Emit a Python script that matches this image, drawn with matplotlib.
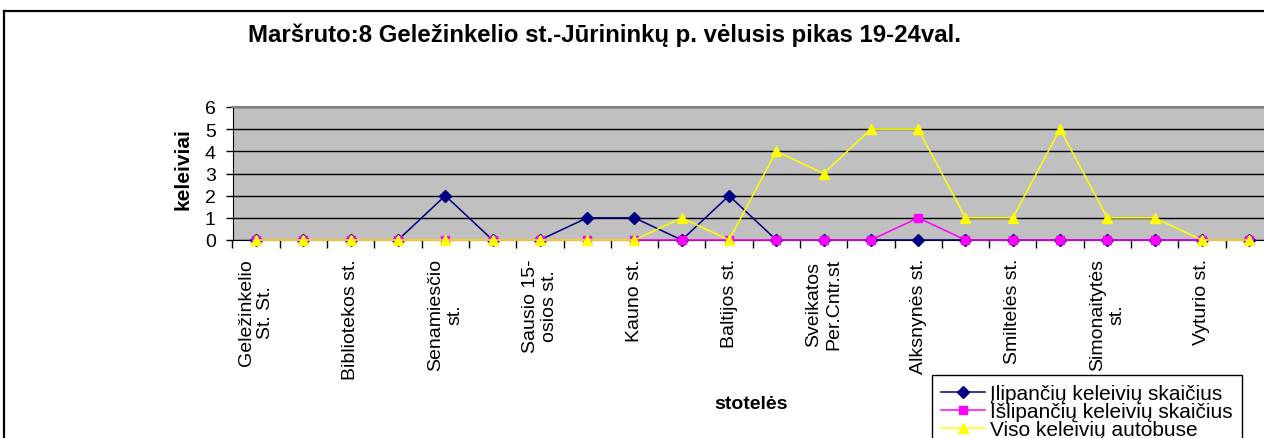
import numpy as np
import matplotlib
matplotlib.use("Agg")
import matplotlib.pyplot as plt
from matplotlib.lines import Line2D

plt.rcParams['font.family'] = ['Liberation Sans', 'DejaVu Sans']

# stops along the route (22 stops, every second one labelled like in the excel chart)
stops = ["Geležinkelio\nSt. St.", "", "Bibliotekos st.", "", "Senamiesčio\nst.", "",
         "Sausio 15-\nosios st.", "", "Kauno st.", "", "Baltijos st.", "",
         "Sveikatos\nPer.Cntr.st", "", "Alksnynės st.", "", "Smiltelės st.", "",
         "Simonaitytės\nst.", "", "Vyturio st.", ""]

ilipa = [0, 0, 0, 0, 2, 0, 0, 1, 1, 0, 2, 0, 0, 0, 0, 0, 0, 0, 0, 0, 0, 0]
islipa = [0, 0, 0, 0, 0, 0, 0, 0, 0, 0, 0, 0, 0, 0, 1, 0, 0, 0, 0, 0, 0, 0]
viso = [0, 0, 0, 0, 0, 0, 0, 0, 0, 1, 0, 4, 3, 5, 5, 1, 1, 5, 1, 1, 0, 0]

series_names = ["Įlipančių keleivių skaičius", "Išlipančių keleivių skaičius", "Viso keleivių autobuse"]

W, H = 1264, 439
fig = plt.figure(figsize=(W / 100, H / 100), dpi=100)

# plot area runs off the right edge of the picture, as in the reference
left_px, right_px = 232.5, 232.5 + 22 * 47.29
top_px, bot_px = 108, 241
ax = fig.add_axes([left_px / W, 1 - bot_px / H, (right_px - left_px) / W, (bot_px - top_px) / H])
ax.set_facecolor("#C0C0C0")

x = np.arange(len(stops))
ax.plot(x, ilipa, color="#000080", lw=1.1, marker="D", ms=6.5, clip_on=False, zorder=3, label=series_names[0])
ax.plot(x, islipa, color="#FF00FF", lw=1.1, marker="s", ms=5.5, clip_on=False, zorder=4, label=series_names[1])
ax.plot(x, viso, color="#FFFF00", lw=1.1, marker="^", ms=7, clip_on=False, zorder=5, label=series_names[2])

ax.set_xlim(-0.5, len(stops) - 0.5)
ax.set_ylim(0, 6)
ax.set_yticks(range(0, 7))
ax.yaxis.grid(True, color="black", lw=1.0)
ax.tick_params(axis="y", direction="out", length=5, width=1, pad=7, labelsize=14)

# labels on every second stop, ticks on the category boundaries
ax.set_xticks(x[::2])
ax.set_xticklabels(stops[::2], rotation=90, ha="center", va="top", multialignment="center", fontsize=14)
ax.set_xticks(np.arange(-0.5, len(stops), 1), minor=True)
ax.tick_params(axis="x", which="major", length=0, pad=13)
ax.tick_params(axis="x", which="minor", direction="out", length=6, width=1)

ax.spines["left"].set_color("black")
ax.spines["bottom"].set_color("black")
ax.spines["top"].set_color("#808080")
ax.spines["top"].set_linewidth(1.5)
ax.spines["right"].set_visible(False)

fig.text(604 / W, 1 - 35 / H, "Maršruto:8 Geležinkelio st.-Jūrininkų p. vėlusis pikas 19-24val.",
         ha="center", va="center", fontsize=17.3, fontweight="bold")
fig.text(183.5 / W, 1 - 169 / H, "keleiviai", rotation=90, ha="center", va="center",
         fontsize=15, fontweight="bold")
fig.text(751 / W, 1 - 405 / H, "stotelės", ha="center", va="center", fontsize=14, fontweight="bold")

leg = fig.legend(loc="upper left", bbox_to_anchor=(932 / W, 1 - 376 / H), bbox_transform=fig.transFigure,
                 borderaxespad=0, fontsize=15, frameon=True, fancybox=False, framealpha=1,
                 edgecolor="black", borderpad=0.45, handlelength=2.1, handletextpad=0.25,
                 labelspacing=-0.06)
leg.get_frame().set_linewidth(1.0)

# chart area border (top and left edges visible)
fig.add_artist(Line2D([4 / W, 4 / W], [1 - 12 / H, 0], color="black", lw=1.6, transform=fig.transFigure))
fig.add_artist(Line2D([4 / W, 1], [1 - 12 / H, 1 - 12 / H], color="black", lw=1.6, transform=fig.transFigure))

fig.savefig("out.png", dpi=100)
